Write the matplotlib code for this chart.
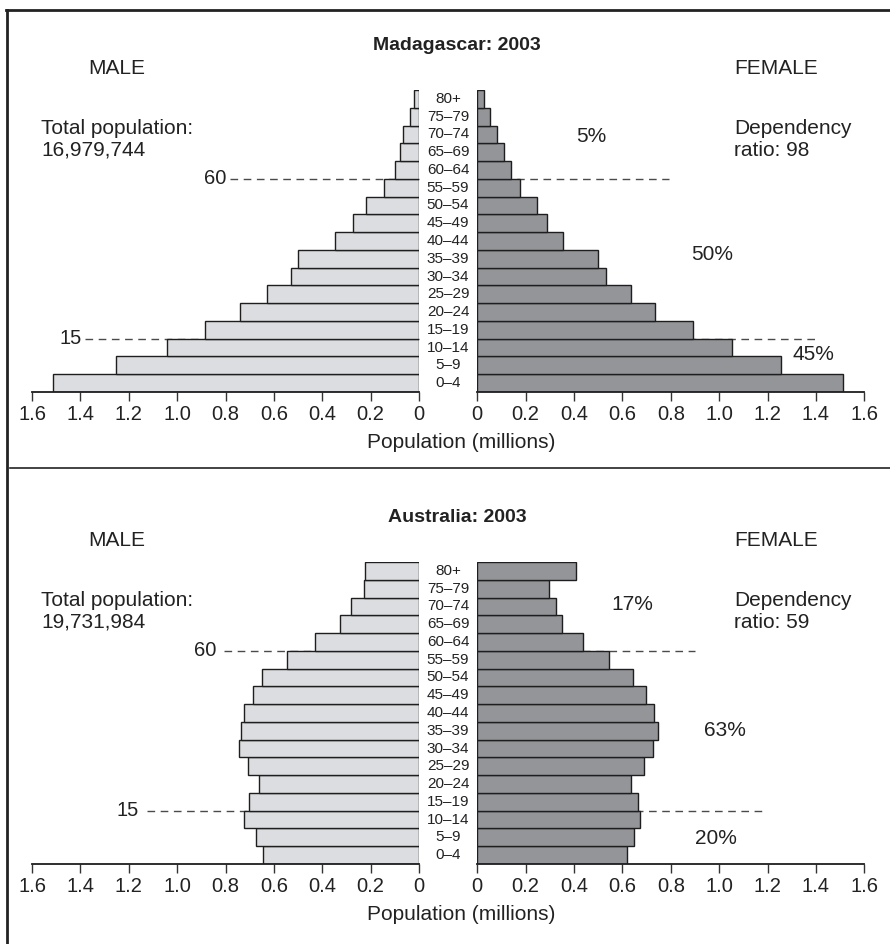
import numpy as np
import matplotlib
matplotlib.use('Agg')
import matplotlib.pyplot as plt
import matplotlib.transforms as mtransforms
from matplotlib.lines import Line2D

plt.rcParams['font.family'] = ['Liberation Sans', 'DejaVu Sans']

# age groups, youngest first
ages = ['0–4', '5–9', '10–14', '15–19', '20–24', '25–29', '30–34', '35–39',
        '40–44', '45–49', '50–54', '55–59', '60–64', '65–69', '70–74',
        '75–79', '80+']

# population in millions
mad_male = [1.515, 1.251, 1.040, 0.886, 0.741, 0.627, 0.528, 0.500, 0.347,
            0.273, 0.218, 0.143, 0.099, 0.077, 0.065, 0.036, 0.022]
mad_female = [1.511, 1.254, 1.054, 0.893, 0.736, 0.634, 0.533, 0.500, 0.355,
              0.289, 0.247, 0.176, 0.139, 0.112, 0.083, 0.051, 0.029]
aus_male = [0.647, 0.674, 0.722, 0.701, 0.661, 0.709, 0.744, 0.736, 0.724,
            0.685, 0.650, 0.544, 0.428, 0.326, 0.281, 0.227, 0.222]
aus_female = [0.620, 0.646, 0.674, 0.665, 0.636, 0.688, 0.727, 0.748, 0.731,
              0.698, 0.642, 0.543, 0.437, 0.349, 0.326, 0.298, 0.409]

ticks = [0, 0.2, 0.4, 0.6, 0.8, 1.0, 1.2, 1.4, 1.6]
tick_labels = ['0', '0.2', '0.4', '0.6', '0.8', '1.0', '1.2', '1.4', '1.6']

W, H = 890, 944
fig = plt.figure(figsize=(8.9, 9.44), dpi=100)

MALE_C = '#dcdde0'
FEMALE_C = '#939598'
EDGE = '#1e1e1e'
DASH = '#4a4a4a'
TXT = '#222222'
FS = 15


def px_axes(x0, y0, x1, y1):
    return fig.add_axes([x0 / W, 1 - y1 / H, (x1 - x0) / W, (y1 - y0) / H])


def ftext(x, y, s, **kw):
    fig.text(x / W, 1 - y / H, s, **kw)


def style_axis(ax):
    for side in ['top', 'left', 'right']:
        ax.spines[side].set_visible(False)
    ax.spines['bottom'].set_linewidth(1.3)
    ax.spines['bottom'].set_color(EDGE)
    ax.set_yticks([])
    ax.set_ylim(-0.5, 16.5)
    ax.set_xticks(ticks)
    ax.set_xticklabels(tick_labels)
    ax.tick_params(axis='x', direction='out', length=6.5, width=1,
                   color='#333333', labelsize=14.5, pad=2.5, labelcolor=TXT)
    ax.patch.set_alpha(0)


def pyramid(dy, male, female, title, total, ratio, pcts, dm, df):
    y = np.arange(len(ages))
    top, bot = 90 + dy, 392 + dy
    axm = px_axes(32, top, 419, bot)
    axf = px_axes(477.3, top, 864.3, bot)

    axm.barh(y, male, height=1.0, color=MALE_C, edgecolor=EDGE, linewidth=1.0, zorder=2)
    axf.barh(y, female, height=1.0, color=FEMALE_C, edgecolor=EDGE, linewidth=1.0, zorder=2)
    axm.set_xlim(1.6, 0)
    axf.set_xlim(0, 1.6)
    style_axis(axm)
    style_axis(axf)

    # age labels in the gap
    tr = mtransforms.blended_transform_factory(fig.transFigure, axm.transData)
    for i, a in enumerate(ages):
        axm.text(448 / W, i, a, transform=tr, ha='center', va='center',
                 fontsize=11, color=TXT, clip_on=False)

    # dashed age-15 and age-60 markers
    dash = dict(color=DASH, lw=1, ls=(0, (5.5, 4)), zorder=1, clip_on=False)
    axm.plot([dm[0][1], 0], [11.5, 11.5], **dash)
    axm.plot([dm[1][1], 0], [2.5, 2.5], **dash)
    axf.plot([0, df[0]], [11.5, 11.5], **dash)
    axf.plot([0, df[1]], [2.5, 2.5], **dash)
    axm.text(dm[0][0], 11.5, '60', ha='right', va='center', fontsize=14.5, color=TXT)
    axm.text(dm[1][0], 2.5, '15', ha='right', va='center', fontsize=14.5, color=TXT)

    ftext(457, 45 + dy, title, ha='center', va='center', fontsize=14, fontweight='bold', color=TXT)
    ftext(117, 68 + dy, 'MALE', ha='center', va='center', fontsize=FS, color=TXT)
    ftext(776, 68 + dy, 'FEMALE', ha='center', va='center', fontsize=FS, color=TXT)
    ftext(41, 139.5 + dy, 'Total population:\n' + total, ha='left', va='center',
          fontsize=FS, color=TXT, linespacing=1.15)
    ftext(734, 139.5 + dy, 'Dependency\nratio: ' + ratio, ha='left', va='center',
          fontsize=FS, color=TXT, linespacing=1.15)
    for (px, py, s) in pcts:
        ftext(px, py, s, ha='center', va='center', fontsize=FS, color=TXT)
    ftext(461, 442 + dy, 'Population (millions)', ha='center', va='center',
          fontsize=FS, color=TXT)


pyramid(0, mad_male, mad_female, 'Madagascar: 2003', '16,979,744', '98',
        [(591, 137, '5%'), (712, 254, '50%'), (813, 355, '45%')],
        [(0.797, 0.78), (1.393, 1.38)], [0.791, 1.398])

pyramid(472, aus_male, aus_female, 'Australia: 2003', '19,731,984', '59',
        [(632, 605, '17%'), (725, 730, '63%'), (716, 838, '20%')],
        [(0.839, 0.806), (1.157, 1.125)], [0.901, 1.175])

# frame and divider
fig.add_artist(Line2D([7 / W, 7 / W], [0, 1 - 10 / H], transform=fig.transFigure, color=TXT, lw=2))
fig.add_artist(Line2D([6 / W, 1], [1 - 10 / H, 1 - 10 / H], transform=fig.transFigure, color=TXT, lw=2))
fig.add_artist(Line2D([10 / W, 1], [1 - 468 / H, 1 - 468 / H], transform=fig.transFigure, color=TXT, lw=1.2))

fig.savefig('out.png', dpi=100)
